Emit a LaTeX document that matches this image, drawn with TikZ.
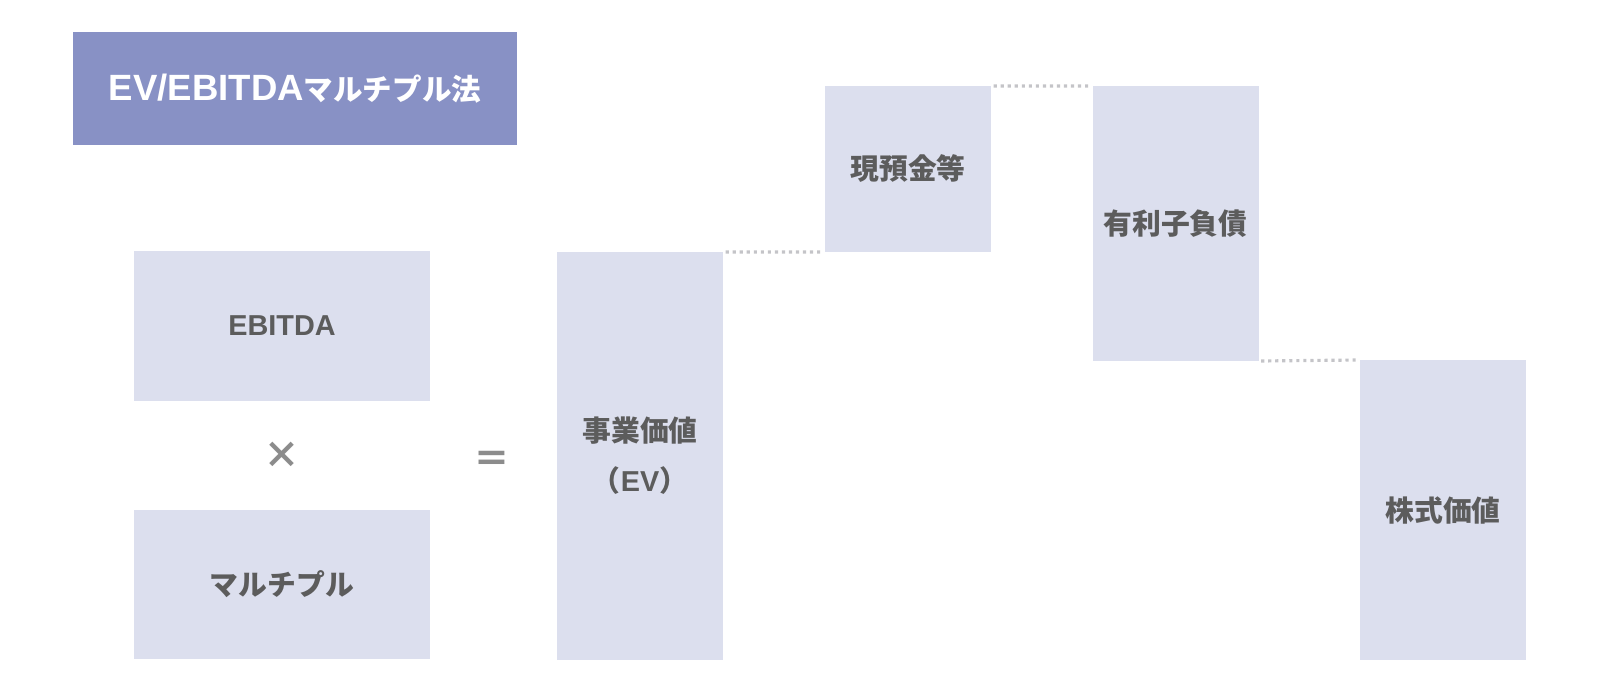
\documentclass[tikz,border=0pt]{standalone}
\usepackage{fontspec}
\usepackage{tikz}
\usetikzlibrary{positioning}
\setmainfont{Liberation Sans}
\newfontfamily\latinfont{Liberation Sans}
\newfontfamily\jpfont{Noto Sans CJK JP}
\definecolor{titlefill}{HTML}{8891C5}
\definecolor{boxfill}{HTML}{DCDFEE}
\definecolor{labelgray}{HTML}{5C5C5C}
\definecolor{signgray}{HTML}{8C8C8C}
\definecolor{dotgray}{HTML}{C4C4C8}

\begin{document}
\begin{tikzpicture}[
  every node/.style={font=\jpfont\bfseries\fontsize{16.4}{28.5}\selectfont, inner sep=0pt, outer sep=0pt},
  titlebox/.style={
    fill=titlefill, text=white,
    minimum width=8.88cm, minimum height=2.26cm,
  },
  block/.style={
    fill=boxfill, text=labelgray, align=center,
    minimum width=3.32cm,
  },
  wideblock/.style={block, minimum width=5.92cm},
  sign/.style={text=signgray, font=\jpfont\bfseries\fontsize{21}{24}\selectfont},
  dots/.style={draw=dotgray, line width=1.8pt, dash pattern=on 1.8pt off 2.2pt},
]
  \useasboundingbox (0,0) rectangle (32,-13.84);

  \node[titlebox] (title) at (5.9,-1.77)
    {{\latinfont\fontsize{20.8}{24}\selectfont EV/EBITDA}{\fontsize{16.8}{20}\selectfont マルチプル法}};

  \node[wideblock, minimum height=3.0cm]  (ebitda)   at (5.64,-6.52)  {{\latinfont EBITDA}};
  \node[sign]                             (times)    at (5.63,-9.1)   {×};
  \node[wideblock, minimum height=2.98cm] (multiple) at (5.64,-11.69) {マルチプル};
  \node[sign]                             (equals)   at (9.84,-9.24)  {＝};

  \node[block, minimum height=8.16cm] (ev)     at (12.8,-9.12)  {事業価値\\（{\latinfont EV}）};
  \node[block, minimum height=3.32cm] (cash)   at (18.16,-3.38) {現預金等};
  \node[block, minimum height=5.5cm]  (debt)   at (23.51,-4.47) {有利子負債};
  \node[block, minimum height=6.0cm]  (equity) at (28.86,-10.2) {株式価値};

  \draw[dots] ([xshift=1.5pt]ev.north east) -- ([xshift=-1pt]cash.south west);
  \draw[dots] ([xshift=1.5pt]cash.north east) -- ([xshift=-1pt]debt.north west);
  \draw[dots] ([xshift=1.5pt]debt.south east) -- ([xshift=-1pt]equity.north west);
\end{tikzpicture}
\end{document}
